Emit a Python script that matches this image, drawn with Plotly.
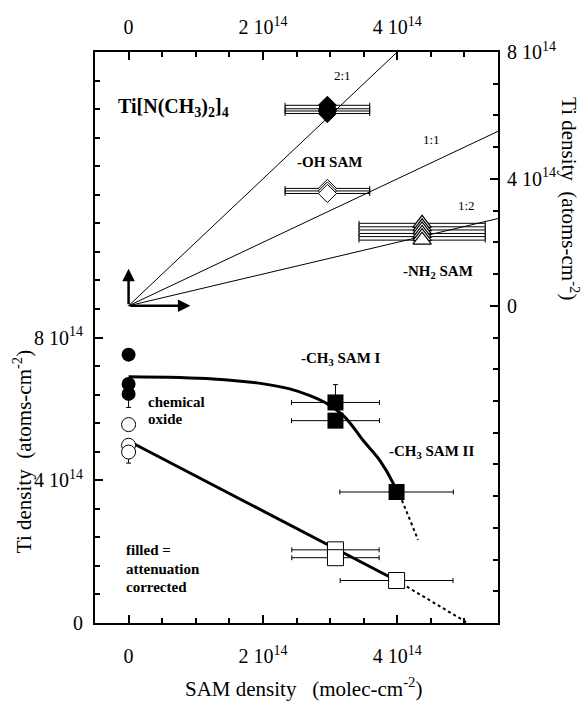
import plotly.graph_objects as go

# All densities in units of 1e14 cm^-2
# --- lower panel (bottom x axis, left y axis) ---
circ_filled_x = [0, 0, 0]
circ_filled_y = [7.52, 6.70, 6.42]
circ_filled_err_minus = [0, 0, 0.38]
circ_open_x = [0, 0, 0]
circ_open_y = [5.56, 4.98, 4.79]
circ_open_err_minus = [0, 0, 0.31]

sq_filled_x = [3.08, 3.08, 3.99]
sq_filled_y = [6.18, 5.67, 3.67]
sq_filled_xerr = [0.655, 0.655, 0.845]
sq_filled_yerr_plus = [0.5, 0, 0]
sq_open_x = [3.08, 3.08, 3.99]
sq_open_y = [2.05, 1.83, 1.19]
sq_open_xerr = [0.65, 0.65, 0.84]

fit_filled_x = [0, 1.26, 2.01, 2.40, 2.70, 2.95, 3.22, 3.49, 3.74, 3.94, 3.99]
fit_filled_y = [6.90, 6.84, 6.70, 6.56, 6.37, 6.15, 5.77, 5.12, 4.56, 3.91, 3.67]
fit_filled_dot_x = [4.07, 4.31]
fit_filled_dot_y = [3.44, 2.33]
fit_open_x = [0, 3.99]
fit_open_y = [5.10, 1.19]
fit_open_dot_x = [3.99, 5.05]
fit_open_dot_y = [1.19, 0]

# --- upper inset (top x axis, right y axis) ---
dia_filled_x = [2.96, 2.96, 2.96, 2.96]
dia_filled_y = [6.32, 6.21, 6.14, 6.06]
dia_filled_xerr = [0.63, 0.63, 0.63, 0.63]
dia_open_x = [2.96, 2.96, 2.96]
dia_open_y = [3.70, 3.62, 3.54]
dia_open_xerr = [0.63, 0.63, 0.63]
tri_x = [4.37, 4.37, 4.37, 4.37, 4.37, 4.37]
tri_y = [2.60, 2.49, 2.39, 2.28, 2.18, 2.07]
tri_xerr = [0.94, 0.94, 0.94, 0.94, 0.94, 0.94]

ratio_vals = [2.0, 1.0, 0.5]
ratio_labels = ["2:1", "1:1", "1:2"]

x_range = [-0.5, 5.5]
y_left_range = [0, 16]
y_right_range = [-10, 8]

FONT = "Liberation Serif, Times New Roman, serif"
BLACK = "black"

fig = go.Figure()

# ratio lines (inset axes)
for r in ratio_vals:
    x_end = min(x_range[1], y_right_range[1] / r)
    fig.add_trace(go.Scatter(x=[0, x_end], y=[0, r * x_end], mode="lines",
                             line=dict(color=BLACK, width=1),
                             xaxis="x2", yaxis="y2", showlegend=False, hoverinfo="skip"))

fig.add_trace(go.Scatter(x=dia_filled_x, y=dia_filled_y, mode="markers",
                         marker=dict(symbol="diamond", size=14, color=BLACK,
                                     line=dict(color=BLACK, width=1)),
                         error_x=dict(type="data", array=dia_filled_xerr, color=BLACK,
                                      thickness=1, width=2.5),
                         xaxis="x2", yaxis="y2", showlegend=False))
fig.add_trace(go.Scatter(x=dia_open_x, y=dia_open_y, mode="markers",
                         marker=dict(symbol="diamond", size=14, color="white",
                                     line=dict(color=BLACK, width=1)),
                         error_x=dict(type="data", array=dia_open_xerr, color=BLACK,
                                      thickness=1, width=2.5),
                         xaxis="x2", yaxis="y2", showlegend=False))
fig.add_trace(go.Scatter(x=tri_x, y=tri_y, mode="markers",
                         marker=dict(symbol="triangle-up", size=16, color="white",
                                     line=dict(color=BLACK, width=1.2)),
                         error_x=dict(type="data", array=tri_xerr, color=BLACK,
                                      thickness=1, width=2.5),
                         xaxis="x2", yaxis="y2", showlegend=False))

# lower panel fits
fig.add_trace(go.Scatter(x=fit_filled_x, y=fit_filled_y, mode="lines",
                         line=dict(color=BLACK, width=3, shape="spline", smoothing=1),
                         showlegend=False, hoverinfo="skip"))
fig.add_trace(go.Scatter(x=fit_filled_dot_x, y=fit_filled_dot_y, mode="lines",
                         line=dict(color=BLACK, width=2, dash="dot"),
                         showlegend=False, hoverinfo="skip"))
fig.add_trace(go.Scatter(x=fit_open_x, y=fit_open_y, mode="lines",
                         line=dict(color=BLACK, width=3),
                         showlegend=False, hoverinfo="skip"))
fig.add_trace(go.Scatter(x=fit_open_dot_x, y=fit_open_dot_y, mode="lines",
                         line=dict(color=BLACK, width=2, dash="dot"),
                         showlegend=False, hoverinfo="skip"))

# lower panel points
fig.add_trace(go.Scatter(x=circ_filled_x, y=circ_filled_y, mode="markers",
                         marker=dict(symbol="circle", size=14, color=BLACK),
                         error_y=dict(type="data", symmetric=False,
                                      array=[0, 0, 0], arrayminus=circ_filled_err_minus,
                                      color=BLACK, thickness=1, width=2.5),
                         showlegend=False))
fig.add_trace(go.Scatter(x=circ_open_x, y=circ_open_y, mode="markers",
                         marker=dict(symbol="circle", size=14, color="white",
                                     line=dict(color=BLACK, width=1)),
                         error_y=dict(type="data", symmetric=False,
                                      array=[0, 0, 0], arrayminus=circ_open_err_minus,
                                      color=BLACK, thickness=1, width=2.5),
                         showlegend=False))
fig.add_trace(go.Scatter(x=sq_open_x, y=sq_open_y, mode="markers",
                         marker=dict(symbol="square", size=16, color="white",
                                     line=dict(color=BLACK, width=1)),
                         error_x=dict(type="data", array=sq_open_xerr, color=BLACK,
                                      thickness=1, width=2.5),
                         showlegend=False))
fig.add_trace(go.Scatter(x=sq_filled_x, y=sq_filled_y, mode="markers",
                         marker=dict(symbol="square", size=16, color=BLACK),
                         error_x=dict(type="data", array=sq_filled_xerr, color=BLACK,
                                      thickness=1, width=2.5),
                         error_y=dict(type="data", symmetric=False,
                                      array=sq_filled_yerr_plus, arrayminus=[0, 0, 0],
                                      color=BLACK, thickness=1, width=2.5),
                         showlegend=False))

def sci(v):
    return "0" if v == 0 else f"{v} 10<sup>14</sup>"

x_major = [0, 2, 4]
x_minor = [v * 0.5 for v in range(-1, 12)]
yl_major = [0, 4, 8, 12, 16]
yl_labels = [sci(0), sci(4), sci(8), "", ""]
yl_minor = [round(v * 0.8, 2) for v in range(0, 21)]
yr_major = [-8, -4, 0, 4, 8]
yr_labels = ["", "", sci(0), sci(4), sci(8)]
yr_minor = list(range(-10, 9))

axis_common = dict(showline=True, linewidth=2, linecolor=BLACK, ticks="inside",
                   ticklen=8, tickwidth=1.5, tickcolor=BLACK, showgrid=False,
                   zeroline=False, tickfont=dict(family=FONT, size=20, color=BLACK))

fig.update_layout(
    width=587, height=704,
    margin=dict(l=95, r=89, t=52, b=81),
    paper_bgcolor="white", plot_bgcolor="white",
    font=dict(family=FONT, color=BLACK),
    xaxis=dict(range=x_range, tickmode="array", tickvals=x_major,
               ticktext=[sci(v) for v in x_major], ticklabelstandoff=14,
               minor=dict(tickvals=x_minor, ticklen=5, tickwidth=1.5, tickcolor=BLACK,
                          ticks="inside"),
               **axis_common),
    xaxis2=dict(range=x_range, overlaying="x", side="top", anchor="y2",
                tickmode="array", tickvals=x_major,
                ticktext=[sci(v) for v in x_major], ticklabelstandoff=8,
                minor=dict(tickvals=x_minor, ticklen=5, tickwidth=1.5, tickcolor=BLACK,
                           ticks="inside"),
                **axis_common),
    yaxis=dict(range=y_left_range, tickmode="array", tickvals=yl_major,
               ticktext=yl_labels, ticklabelstandoff=6,
               minor=dict(tickvals=yl_minor, ticklen=5, tickwidth=1.5, tickcolor=BLACK,
                          ticks="inside"),
               **axis_common),
    yaxis2=dict(range=y_right_range, overlaying="y", side="right", anchor="x2",
                tickmode="array", tickvals=yr_major, ticktext=yr_labels,
                ticklabelstandoff=3,
                minor=dict(tickvals=yr_minor, ticklen=5, tickwidth=1.5, tickcolor=BLACK,
                           ticks="inside"),
                **axis_common),
)

def ann(text, xp, yp, size=15, bold=False, xanchor="center", angle=0):
    t = f"<b>{text}</b>" if bold else text
    fig.add_annotation(text=t, x=xp, y=yp, xref="paper", yref="paper",
                       xanchor=xanchor, yanchor="middle", showarrow=False,
                       textangle=angle, font=dict(family=FONT, size=size, color=BLACK))

# ratio labels
ann(ratio_labels[0], 0.613, 0.958, size=13)
ann(ratio_labels[1], 0.834, 0.846, size=13)
ann(ratio_labels[2], 0.923, 0.731, size=13)

ann("Ti[N(CH<sub>3</sub>)<sub>2</sub>]<sub>4</sub>", 0.052, 0.902, size=20, bold=True, xanchor="left")
ann("-OH SAM", 0.583, 0.807, bold=True)
ann("-NH<sub>2</sub> SAM", 0.851, 0.615, bold=True)
ann("-CH<sub>3</sub> SAM I", 0.610, 0.463, bold=True)
ann("-CH<sub>3</sub> SAM II", 0.836, 0.299, bold=True)
ann("chemical", 0.1266, 0.3873, bold=True, xanchor="left")
ann("oxide", 0.1266, 0.357, bold=True, xanchor="left")
ann("filled =", 0.0720, 0.1283, bold=True, xanchor="left")
ann("attenuation", 0.0720, 0.0950, bold=True, xanchor="left")
ann("corrected", 0.0720, 0.0624, bold=True, xanchor="left")

# axis titles
ann("Ti density\u00a0\u00a0(atoms-cm<sup>-2</sup>)", -0.180, 0.300, size=21, angle=-90)
ann("Ti density\u00a0\u00a0(atoms-cm<sup>-2</sup>)", 1.179, 0.744, size=21, angle=90)
ann("SAM density\u00a0\u00a0\u00a0(molec-cm<sup>-2</sup>)", 0.517, -0.113, size=21)

# axes-origin arrows in the inset
fig.add_annotation(x=0, y=1.17, ax=0, ay=0, xref="x2", yref="y2", axref="x2", ayref="y2",
                   showarrow=True, arrowhead=2, arrowsize=1, arrowwidth=2.5,
                   arrowcolor=BLACK, text="")
fig.add_annotation(x=0.92, y=0, ax=0, ay=0, xref="x2", yref="y2", axref="x2", ayref="y2",
                   showarrow=True, arrowhead=2, arrowsize=1, arrowwidth=2.5,
                   arrowcolor=BLACK, text="")

fig.write_html("out.html", config={"displayModeBar": False},
               post_script="document.body.style.margin='0px';document.body.style.padding='0px';")
